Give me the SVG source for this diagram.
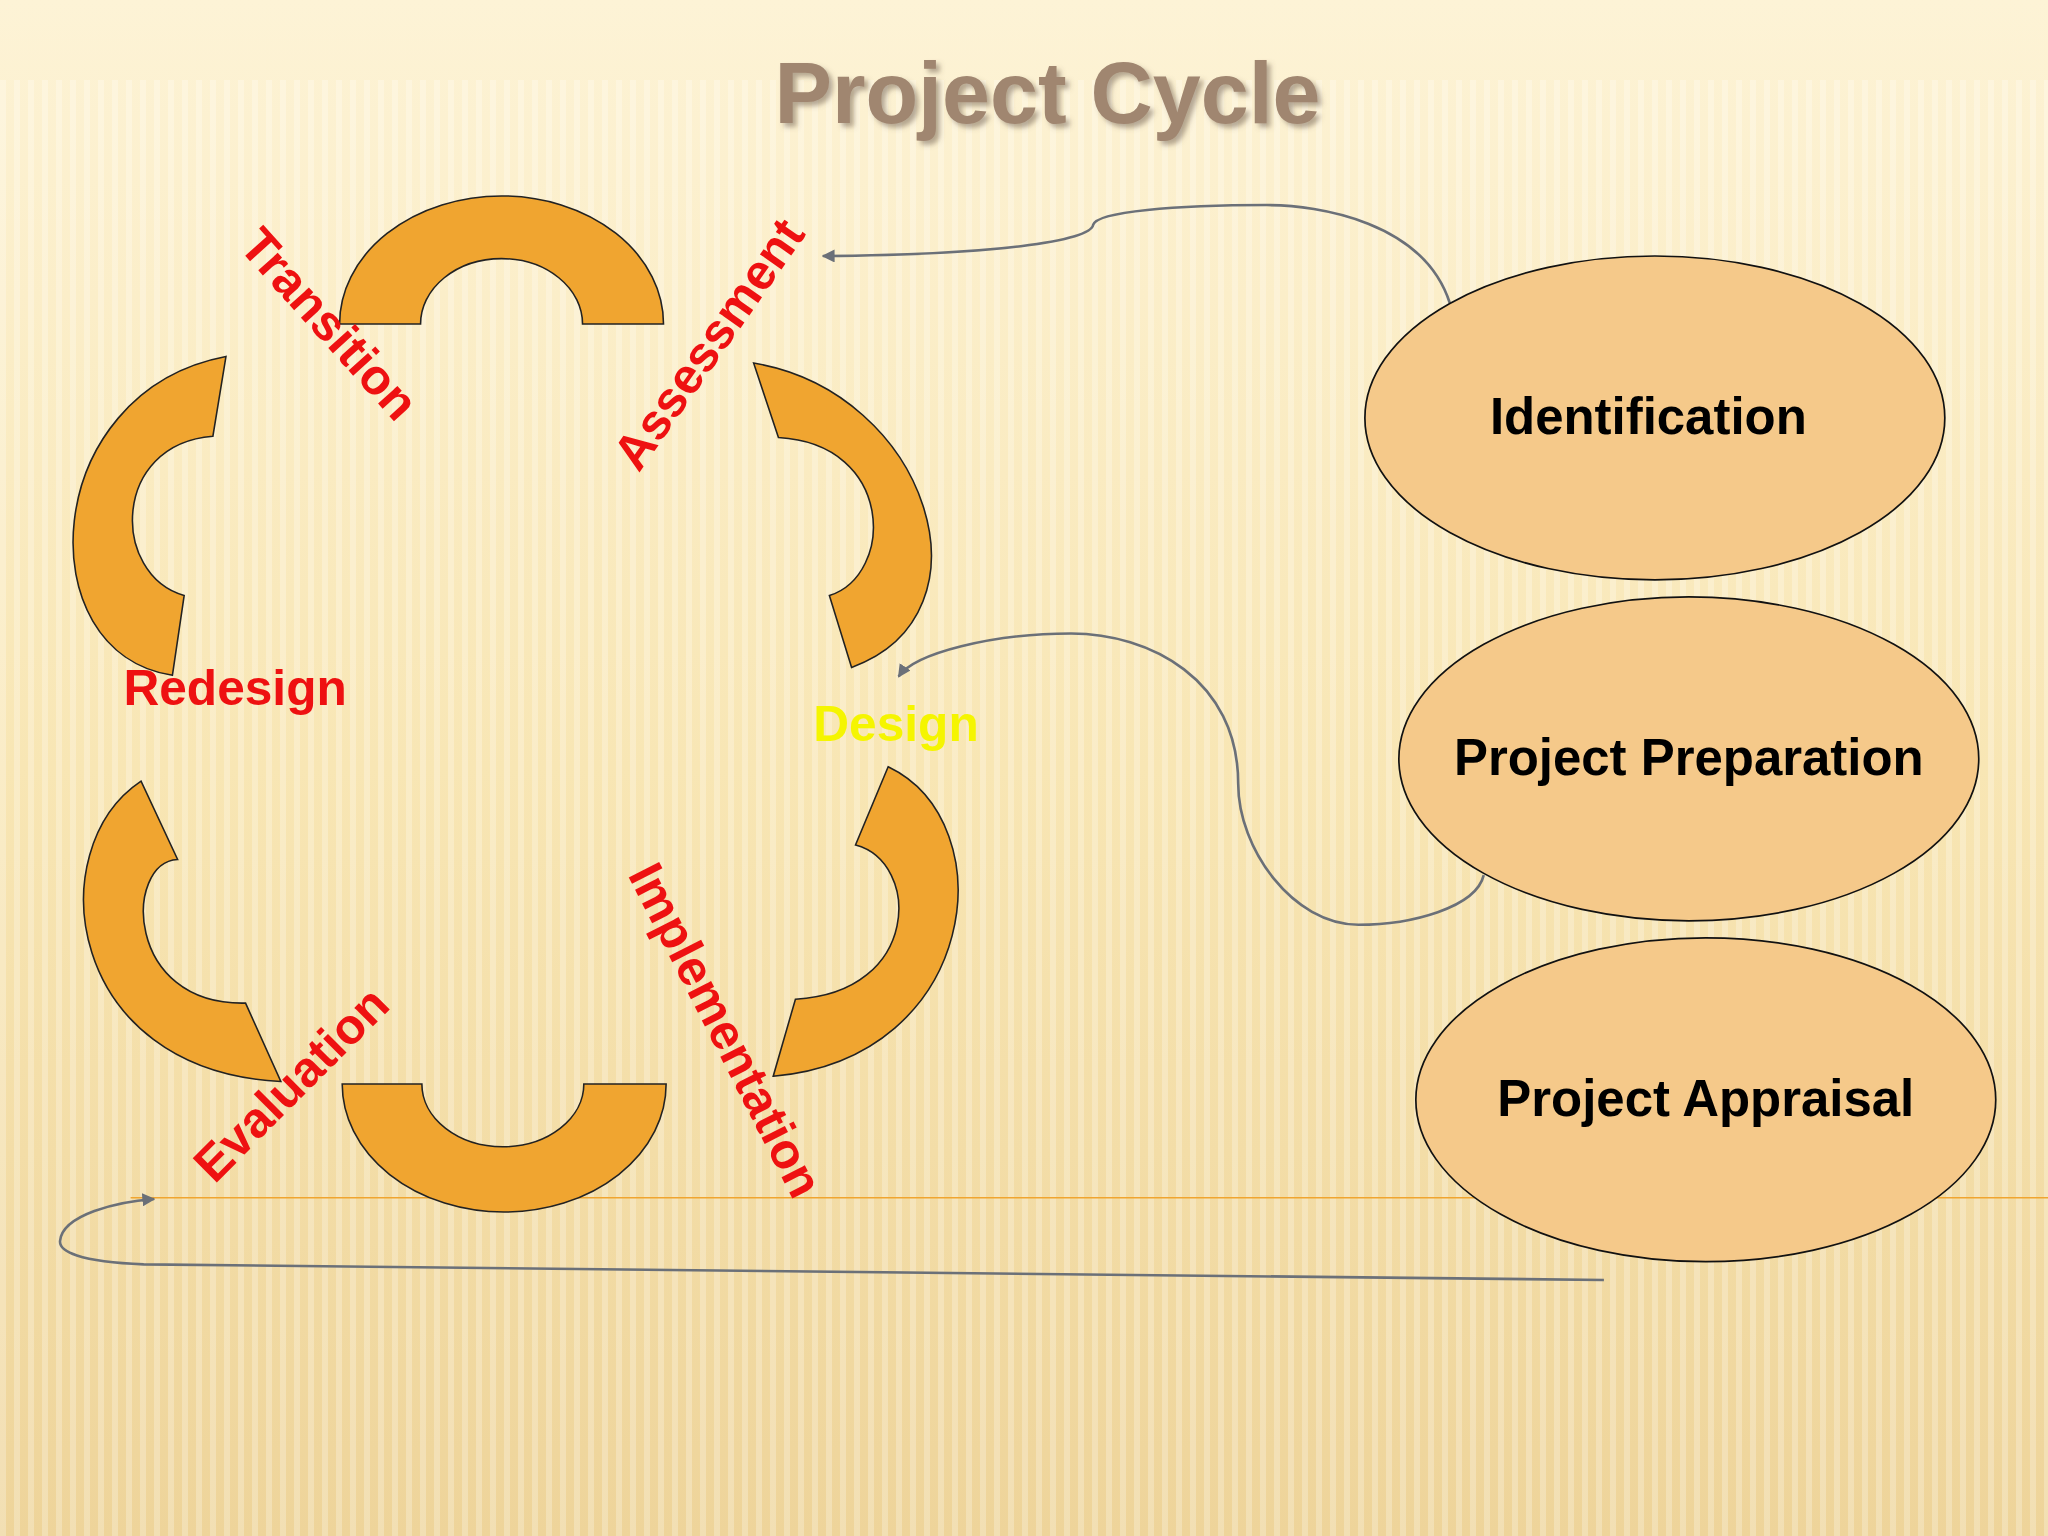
<svg xmlns="http://www.w3.org/2000/svg" width="2048" height="1536" viewBox="0 0 2048 1536">
<defs>
<linearGradient id="bg" x1="0" y1="0" x2="0" y2="1"><stop offset="0" stop-color="#fdf3d6"/><stop offset="0.5" stop-color="#f8e6b4"/><stop offset="1" stop-color="#eed49a"/></linearGradient>
<pattern id="st" width="14" height="20" patternUnits="userSpaceOnUse"><rect width="6" height="20" fill="#ffffff" opacity="0.25"/></pattern>
<marker id="ar" viewBox="0 0 10 10" refX="9" refY="5" markerWidth="5" markerHeight="5" orient="auto"><path d="M0,0 L10,5 L0,10 Z" fill="#6b7078"/></marker>
<filter id="sh"><feDropShadow dx="3" dy="3" stdDeviation="2" flood-color="#6b5a48" flood-opacity="0.5"/></filter>
</defs>
<style>
.seg{fill:#f0a530;stroke:#222;stroke-width:1.2}
.lbl{font-family:"Liberation Sans",Arial,sans-serif;font-weight:bold;font-size:38px;fill:#ee1111;text-anchor:middle;dominant-baseline:middle}
.ell{fill:#f5c98a;stroke:#111;stroke-width:1.3}
.et{font-family:"Liberation Sans",Arial,sans-serif;font-weight:bold;font-size:39px;fill:#000;text-anchor:middle;dominant-baseline:middle}
.con{fill:none;stroke:#6b7078;stroke-width:2}
</style>
<rect width="2048" height="1536" fill="url(#bg)"/>
<rect y="80" width="2048" height="1456" fill="url(#st)"/>
<g transform="scale(1.30612)">
<text x="802" y="77" font-family="'Liberation Sans',Arial,sans-serif" font-weight="bold" font-size="66" fill="#a08670" text-anchor="middle" dominant-baseline="middle" filter="url(#sh)">Project Cycle</text>
<line x1="100" y1="917" x2="1568" y2="917" stroke="#f0a530" stroke-width="1.2"/>
<g id="seg-top"><path class="seg" d="M260,248 A124,98 0 0 1 508,248 L446,248 A62,50 0 0 0 322,248 Z"/></g>
<g id="seg-bottom"><path class="seg" d="M262,830 A124,98 0 0 0 510,830 L447,830 A62,48 0 0 1 323,830 Z"/></g>
<g id="seg-ru"><path class="seg" d="M577,278 C710,300 765,470 652,511 L635,456 C685,440 685,340 596,335 Z"/></g>
<g id="seg-lu"><path class="seg" d="M173,273 C30,300 20,500 132,517 L141,456 C85,440 85,340 163,334 Z"/></g>
<g id="seg-ll"><path class="seg" d="M108,598 C30,650 50,820 215,828 L188,768 C95,770 95,660 136,658 Z"/></g>
<g id="seg-rl"><path class="seg" d="M680,587 C770,630 750,810 592,824 L609,765 C705,760 705,660 655,647 Z"/></g>
<g id="labels">
<text class="lbl" transform="translate(250,250) rotate(48)">Transition</text>
<text class="lbl" transform="translate(545,265) rotate(-55)">Assessment</text>
<text class="lbl" x="180" y="530">Redesign</text>
<text class="lbl" x="686" y="557" style="fill:#f5f500">Design</text>
<text class="lbl" transform="translate(553,790) rotate(63)">Implementation</text>
<text class="lbl" transform="translate(225,832) rotate(-45)">Evaluation</text>
</g>
<g id="connectors">
<path class="con" marker-end="url(#ar)" d="M1110,232 C1090,170 1010,157 970,157 C900,157 840,162 837,172 C835,185 760,195 630,196"/>
<path class="con" marker-end="url(#ar)" d="M1136,670 C1130,695 1080,708 1040,708 C990,708 948,650 948,600 C948,520 880,485 820,485 C760,485 700,500 688,518"/>
<path class="con" marker-end="url(#ar)" d="M1228,980 L110,968 C60,966 45,958 46,950 C48,930 90,920 118,918"/>
</g>
<g id="identification"><ellipse class="ell" cx="1267" cy="320" rx="222" ry="124"/><text class="et" x="1262" y="322">Identification</text></g>
<g id="preparation"><ellipse class="ell" cx="1293" cy="581" rx="222" ry="124"/><text class="et" x="1293" y="583">Project Preparation</text></g>
<g id="appraisal"><ellipse class="ell" cx="1306" cy="842" rx="222" ry="124"/><text class="et" x="1306" y="844">Project Appraisal</text></g>
</g>
</svg>
